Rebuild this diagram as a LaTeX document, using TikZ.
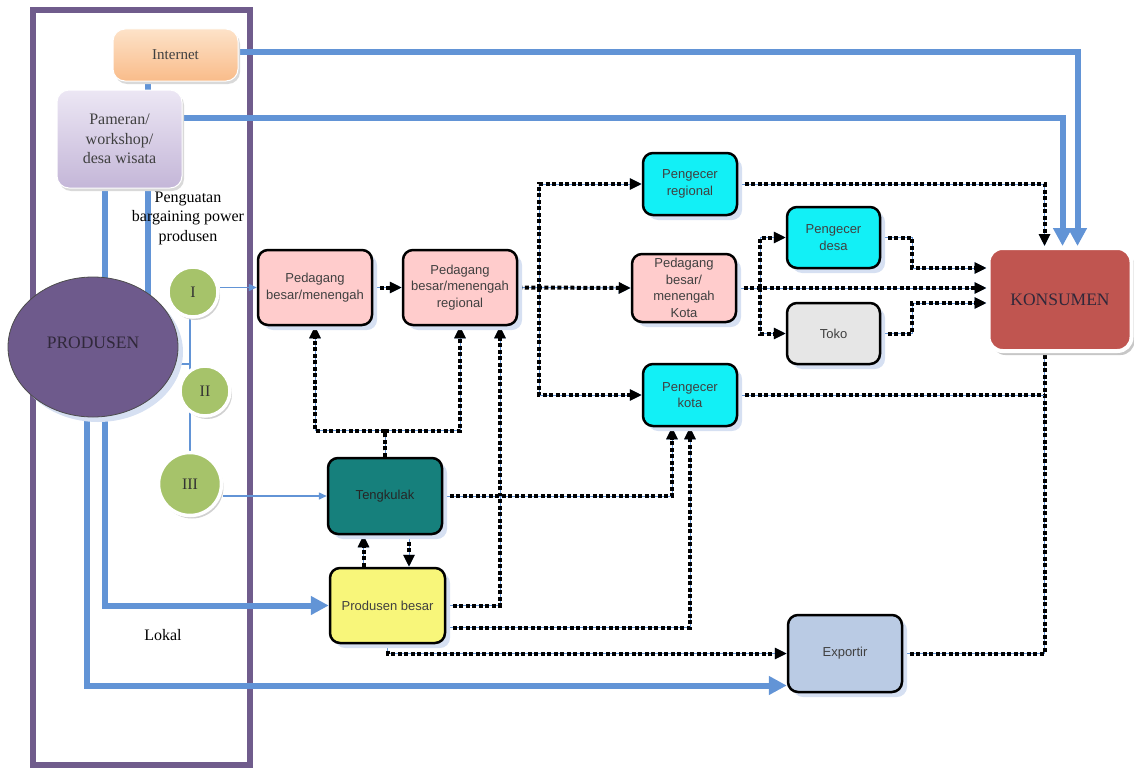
\documentclass[tikz,border=0pt]{standalone}
\usepackage{fontspec}
\setmainfont{Liberation Serif}
\newfontfamily\boxfont{Liberation Sans}
\usepackage{tikz}
\usetikzlibrary{arrows.meta,shadows,shapes.geometric}
\pgfdeclarelayer{background}
\pgfsetlayers{background,main}

\definecolor{flowblue}{RGB}{98,148,214}
\definecolor{frameviolet}{RGB}{112,92,140}
\definecolor{shadowblue}{RGB}{214,224,242}
\definecolor{pinkbox}{RGB}{255,204,204}
\definecolor{cyanbox}{RGB}{18,240,246}
\definecolor{grayplain}{RGB}{230,230,230}
\definecolor{tealbox}{RGB}{22,128,124}
\definecolor{yellowbox}{RGB}{248,246,122}
\definecolor{exportblue}{RGB}{186,203,228}
\definecolor{konsumenred}{RGB}{192,85,80}
\definecolor{ballgreen}{RGB}{166,195,106}
\definecolor{produsenviolet}{RGB}{110,90,140}
\definecolor{orangetop}{RGB}{253,226,200}
\definecolor{orangebot}{RGB}{249,188,138}
\definecolor{lilaclight}{RGB}{236,231,244}
\definecolor{lilacdark}{RGB}{196,182,216}
\definecolor{boxtext}{RGB}{64,64,64}
\definecolor{darktext}{RGB}{48,40,58}

\def\boxsize{\boxfont\fontsize{13}{16.5}\selectfont}
\def\serifsize{\fontsize{16}{19.5}\selectfont}
\def\bigserif{\fontsize{17.5}{20}\selectfont}

\tikzset{
	flowbox/.style={rectangle, rounded corners=10pt, draw=black, line width=2.5pt, font=\boxsize, text=boxtext, align=center, inner sep=1pt, minimum width=114pt, minimum height=75pt, drop shadow={shadow xshift=5pt, shadow yshift=-5pt, fill=shadowblue, opacity=1}},
	smallbox/.style={flowbox, minimum width=94pt, minimum height=62pt},
	sourcebox/.style={rectangle, rounded corners=12pt, draw=white, line width=1pt, font=\serifsize, text=boxtext, align=center, drop shadow={shadow xshift=2pt, shadow yshift=-3pt, fill=black!15, opacity=1}},
	ball/.style={circle, draw=white, line width=3.5pt, fill=ballgreen, inner sep=0pt, minimum size=50pt, font=\serifsize, text=black!80, drop shadow={shadow xshift=2pt, shadow yshift=-3pt, fill=black!18, opacity=1}},
	bigline/.style={draw=flowblue, line width=6pt},
	bigflow/.style={bigline, -{Triangle[length=18pt, width=18pt]}},
	thinline/.style={draw=flowblue, line width=1.5pt},
	thinflow/.style={thinline, -{Triangle[length=8pt, width=7pt]}},
	dotline/.style={draw=black, line width=4pt, dash pattern=on 4pt off 2.5pt, preaction={draw=flowblue, line width=1pt, solid}},
	dotflow/.style={dotline, -{Triangle[length=12pt, width=11pt]}}
}

\begin{document}
\begin{tikzpicture}[x=1pt, y=-1pt]
	%%%%% START %%%%%
	\useasboundingbox (0, 0) rectangle (1134, 768);
	
	% kiri: sumber dan produsen
	\node[sourcebox, top color=orangetop, bottom color=orangebot, minimum width=125pt, minimum height=52pt, font=\fontsize{15}{17}\selectfont] (internet) at (175.5, 55) {Internet};
	\node[sourcebox, top color=lilaclight, bottom color=lilacdark, minimum width=125pt, minimum height=98pt] (pameran) at (119.5, 139) {Pameran/\\workshop/\\desa wisata};
	\node[font=\serifsize, align=center, text=black] (penguatan) at (188, 218) {Penguatan\\bargaining power\\produsen};
	\node[font=\serifsize, text=black] (lokal) at (163, 635) {Lokal};
	
	\node[ellipse, fill=produsenviolet, draw=black!70, line width=0.8pt, minimum width=170pt, minimum height=140pt, inner sep=0pt, font=\bigserif, text=darktext, drop shadow={shadow xshift=5pt, shadow yshift=-5pt, fill=shadowblue, opacity=1}] (produsen) at (93, 347) {\raisebox{9pt}{PRODUSEN}};
	
	\node[ball] (cI) at (193, 292) {I};
	\node[ball] (cII) at (205, 391) {II};
	\node[ball, minimum size=63pt] (cIII) at (190, 484) {III};
	
	% saluran distribusi
	\node[flowbox, fill=pinkbox] (pb1) at (315, 287.5) {Pedagang\\besar/menengah};
	\node[flowbox, fill=pinkbox] (pb2) at (460, 287.5) {Pedagang\\besar/menengah\\regional};
	\node[smallbox, fill=cyanbox] (pregional) at (690, 184) {Pengecer\\regional};
	\node[smallbox, fill=pinkbox, minimum width=104pt, minimum height=68pt, inner sep=0pt] (pb3) at (684, 288) {Pedagang\\besar/\\menengah\\Kota};
	\node[smallbox, fill=cyanbox, minimum width=93pt, minimum height=61pt] (pdesa) at (833.5, 237.5) {Pengecer\\desa};
	\node[smallbox, fill=grayplain, minimum width=93pt, minimum height=61pt] (toko) at (833.5, 333.5) {Toko};
	\node[smallbox, fill=cyanbox] (pkota) at (690, 395) {Pengecer\\kota};
	\node[flowbox, fill=tealbox, minimum height=76pt, text=black!85] (tengkulak) at (385, 496) {Tengkulak};
	\node[flowbox, fill=yellowbox, minimum width=115pt] (probesar) at (387.5, 605.5) {Produsen besar};
	\node[flowbox, fill=exportblue, minimum height=77pt] (exportir) at (845, 653.5) {Exportir};
	
	\node[rectangle, rounded corners=14pt, draw=white, line width=4pt, fill=konsumenred, minimum width=143pt, minimum height=103pt, font=\bigserif, text=darktext, drop shadow={shadow xshift=3pt, shadow yshift=-4pt, fill=black!22, opacity=1}] (konsumen) at (1060, 299.5) {KONSUMEN};
	
	\coordinate (splitA) at (539, 288);
	\coordinate (splitB) at (760, 288);
	\coordinate (bendD) at (912, 268);
	\coordinate (bendT) at (912, 303);
	
	\begin{pgfonlayer}{background}
		\draw[frameviolet, line width=5.5pt] (33, 10) rectangle (250, 765);
		
		% jalur biru tebal
		\draw[bigflow] ([yshift=3pt]internet.east) -| ([xshift=17.5pt]konsumen.north);
		\draw[bigflow] ([yshift=21pt]pameran.east) -| ([xshift=2.5pt]konsumen.north);
		\draw[bigline] ([xshift=-27.5pt]internet.south) -- ([xshift=28.5pt]pameran.north);
		\draw[bigline] ([xshift=28.5pt]pameran.south) -- ([xshift=28.5pt]pameran.south |- produsen.center);
		\draw[bigflow] ([xshift=-14.5pt]pameran.south) |- (probesar.west);
		\draw[bigflow] ([xshift=-6pt]produsen.south) |- ([yshift=-32pt]exportir.west);
		
		% jalur biru tipis
		\draw[thinflow] (pb1.west -| cI.east) -- (pb1.west);
		\draw[thinflow] (tengkulak.west -| cIII.east) -- (tengkulak.west);
		\draw[thinline] ([yshift=-17pt]produsen.east) -- ([yshift=-17pt]produsen.east -| cIII.north);
		\draw[thinline] (cI.south -| cIII.north) -- (cIII.north);
		
		% jalur titik-titik
		\draw[dotflow] (pb1.east) -- (pb2.west);
		\draw[dotflow] (pb2.east) -- (pb3.west);
		\draw[dotflow] (splitA) |- (pregional.west);
		\draw[dotflow] (splitA) |- (pkota.west);
		\draw[dotflow] (pb3.east) -- (pb3.east -| konsumen.west);
		\draw[dotflow] (splitB) |- (pdesa.west);
		\draw[dotflow] (splitB) |- (toko.west);
		\draw[dotflow] (pdesa.east) -| (bendD) -- (bendD -| konsumen.west);
		\draw[dotflow] (toko.east) -| (bendT) -- (bendT -| konsumen.west);
		\draw[dotflow] (pregional.east) -| ([xshift=-15.5pt]konsumen.north);
		\draw[dotline] (exportir.east) -| ([xshift=-15.5pt]konsumen.south);
		\draw[dotline] (pkota.east) -- ([xshift=-15.5pt]pkota.east -| konsumen.south);
		
		\draw[dotflow] (tengkulak.north) -- ++(0, -26) -| (pb1.south);
		\draw[dotflow] (tengkulak.north) -- ++(0, -26) -| (pb2.south);
		\draw[dotflow] (probesar.east) -| ([xshift=40pt]pb2.south);
		\draw[dotflow] (tengkulak.east) -| ([xshift=-18pt]pkota.south);
		\draw[dotflow] ([yshift=-22pt]probesar.east) -| (pkota.south);
		\draw[dotflow] (probesar.south) |- (exportir.west);
		\draw[dotflow] ([xshift=-24pt]probesar.north) -- ([xshift=-24pt]probesar.north |- tengkulak.south);
		\draw[dotflow] ([xshift=24pt]tengkulak.south) -- ([xshift=24pt]tengkulak.south |- probesar.north);
	\end{pgfonlayer}
	
	%%%%% END %%%%%
\end{tikzpicture}
\end{document}
